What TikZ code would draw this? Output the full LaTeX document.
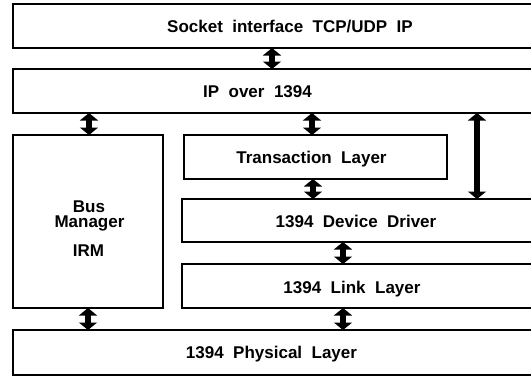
\documentclass[tikz,border=0pt]{standalone}
\usepackage{fontspec}
\setmainfont{Liberation Sans}
\usetikzlibrary{arrows.meta}

\begin{document}
\begin{tikzpicture}[x=1pt,y=-1pt,
  layer/.style={draw=black, line width=1.2pt, inner sep=0pt, outer sep=0pt,
                anchor=north west},
  caption/.style={font=\fontsize{17}{17}\selectfont\bfseries, inner sep=0pt,
                  anchor=base, align=center},
  dbl/.style={line width=6.5pt,
              {Triangle[width=18pt,length=7.5pt]}-{Triangle[width=18pt,length=7.5pt]}}]
\useasboundingbox (0,0) rectangle (531,378);
\clip (0,0) rectangle (531,378);

% protocol layers (the right-hand ones run off the right edge)
\node[layer, minimum width=547pt, minimum height=44pt] (sock) at (13,4) {};
\node[layer, minimum width=547pt, minimum height=44pt] (ip)   at (13,69) {};
\node[layer, minimum width=150pt, minimum height=173pt] (bus) at (13,135) {};
\node[layer, minimum width=263pt, minimum height=44pt] (trans) at (184,135) {};
\node[layer, minimum width=378pt, minimum height=43pt] (drv)  at (182,199) {};
\node[layer, minimum width=378pt, minimum height=44pt] (link) at (182,264) {};
\node[layer, minimum width=547pt, minimum height=45pt] (phy)  at (13,330) {};

% layer names
\node[caption] (tsock)  at (290,32)    {Socket\ \ interface\ \ TCP/UDP\ \ IP};
\node[caption] (tip)    at (257.5,97)  {IP\ \ over\ \ 1394};
\node[caption] (ttrans) at (311.5,163) {Transaction\ \ Layer};
\node[caption] (tdrv)   at (356,227)   {1394\ \ Device\ \ Driver};
\node[caption] (tlink)  at (352,293)   {1394\ \ Link\ \ Layer};
\node[caption] (tphy)   at (271.5,358) {1394\ \ Physical\ \ Layer};
\node[caption] (tbus)   at (89,212.6)  {Bus};
\node[caption] (tman)   at (89.5,227.8) {Manager};
\node[caption] (tirm)   at (88.5,256)  {IRM};

% columns of the connecting arrows
\coordinate (c1) at (272,0);
\coordinate (c2) at (89,0);
\coordinate (c3) at (312,0);
\coordinate (c4) at (477,0);
\coordinate (c5) at (313,0);
\coordinate (c6) at (343,0);
\coordinate (c7) at (88,0);

\draw[dbl] (sock.south -| c1) -- (ip.north -| c1);
\draw[dbl] (ip.south -| c2) -- (bus.north -| c2);
\draw[dbl] (ip.south -| c3) -- (trans.north -| c3);
\draw[dbl] (ip.south -| c4) -- (drv.north -| c4);
\draw[dbl] (trans.south -| c5) -- (drv.north -| c5);
\draw[dbl] (drv.south -| c6) -- (link.north -| c6);
\draw[dbl] (bus.south -| c7) -- (phy.north -| c7);
\draw[dbl] (link.south -| c6) -- (phy.north -| c6);
\end{tikzpicture}
\end{document}
